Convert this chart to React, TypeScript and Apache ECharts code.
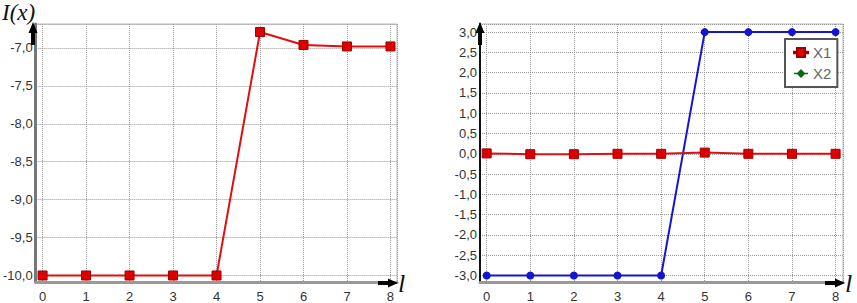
import React, { useEffect, useRef } from "react";
import * as echarts from "echarts";

const steps = [0, 1, 2, 3, 4, 5, 6, 7, 8];
const iValues = [-10.0, -10.0, -10.0, -10.0, -10.0, -6.79, -6.96, -6.98, -6.98];
const x1Values = [0.01, -0.01, -0.01, 0.0, 0.0, 0.03, 0.0, 0.0, 0.0];
const x2Values = [-3, -3, -3, -3, -3, 3, 3, 3, 3];
const seriesNames = ["X1", "X2"];

const fmtX = (v: number) => (Math.abs(v - Math.round(v)) < 1e-6 ? String(Math.round(v)) : "");
const fmtY = (v: number) => {
  const k = v / 0.5;
  if (Math.abs(k - Math.round(k)) > 1e-6) return "";
  return (Math.round(k) * 0.5).toFixed(1).replace(".", ",");
};

const labelStyle = { fontFamily: "Liberation Sans", fontSize: 13, color: "#333" };
const split = { show: true, lineStyle: { type: "dotted" as const, color: "#999", width: 1 } };

function xAxisCfg(gridIndex: number, min: number, max: number) {
  return {
    type: "value",
    gridIndex,
    min,
    max,
    splitNumber: 8,
    minInterval: 1,
    maxInterval: 1,
    axisLine: { show: true, onZero: false, lineStyle: { color: "#999", width: 3 } },
    axisTick: { show: false },
    axisLabel: { ...labelStyle, margin: 8, formatter: fmtX },
    splitLine: split,
  };
}

function yAxisCfg(gridIndex: number, min: number, max: number, color: string, width: number) {
  return {
    type: "value",
    gridIndex,
    min,
    max,
    splitNumber: 7,
    minInterval: 0.5,
    maxInterval: 0.5,
    axisLine: { show: true, onZero: false, lineStyle: { color, width } },
    axisTick: { show: false },
    axisLabel: { ...labelStyle, margin: 3, formatter: fmtY },
    splitLine: split,
  };
}

function upArrow(x: number, top: number) {
  return [
    { type: "polygon", shape: { points: [[x, top - 2], [x - 4.5, top + 9], [x + 4.5, top + 9]] }, style: { fill: "#000" }, z: 100 },
    { type: "rect", shape: { x: x - 2, y: top + 8, width: 4, height: 13 }, style: { fill: "#000" }, z: 100 },
  ];
}
function rightArrow(tipX: number, y: number) {
  return [
    { type: "polygon", shape: { points: [[tipX, y], [tipX - 10, y - 4.5], [tipX - 10, y + 4.5]] }, style: { fill: "#000" }, z: 100 },
    { type: "rect", shape: { x: tipX - 20, y: y - 2, width: 11, height: 4 }, style: { fill: "#000" }, z: 100 },
  ];
}

const squareIcon = "path://M0,4.3H3V5.7H0Z M3,0.5H11V9.5H3Z M11,4.3H14V5.7H11Z";
const diamondIcon = "path://M0,4.3H3V5.7H0Z M2.5,5L7,0.5L11.5,5L7,9.5Z M11,4.3H14V5.7H11Z";

export default function App() {
  const ref = useRef<HTMLDivElement>(null);
  useEffect(() => {
    document.body.style.margin = "0";
    if (!ref.current) return;
    const chart = echarts.init(ref.current, null, { renderer: "svg" });
    chart.setOption({
      animation: false,
      backgroundColor: "#fff",
      grid: [
        { left: 33, right: 460, top: 24, bottom: 20, show: true, borderColor: "#bbb", borderWidth: 1 },
        { left: 480, right: 14, top: 24, bottom: 20, show: true, borderColor: "#bbb", borderWidth: 1 },
      ],
      xAxis: [xAxisCfg(0, -0.16, 8.15), xAxisCfg(1, -0.153, 8.17)],
      yAxis: [
        yAxisCfg(0, -10.086, -6.684, "#777", 3),
        yAxisCfg(1, -3.16, 3.2, "#111", 2),
      ],
      legend: {
        left: 785,
        top: 39,
        orient: "vertical",
        backgroundColor: "#fff",
        borderColor: "#555",
        borderWidth: 2,
        padding: [6, 6, 6, 8],
        itemGap: 6,
        itemWidth: 14,
        itemHeight: 10,
        textStyle: { fontFamily: "Liberation Sans", fontSize: 15, color: "#666" },
        data: [
          { name: seriesNames[0], icon: squareIcon, itemStyle: { color: "#dd0000" } },
          { name: seriesNames[1], icon: diamondIcon, itemStyle: { color: "#0a6a1a" } },
        ],
      },
      graphic: [
        ...upArrow(33, 24),
        ...rightArrow(398, 283),
        ...upArrow(480, 24),
        ...rightArrow(845, 283),
        { type: "text", left: 2, top: 1, style: { text: "I(x)", font: "italic 23px 'Liberation Serif'", fill: "#111" }, z: 100 },
        { type: "text", left: 398, top: 270, style: { text: "l", font: "italic 26px 'Liberation Serif'", fill: "#111" }, z: 100 },
        { type: "text", left: 845, top: 270, style: { text: "l", font: "italic 26px 'Liberation Serif'", fill: "#111" }, z: 100 },
      ],
      series: [
        {
          name: "I(x)",
          type: "line",
          xAxisIndex: 0,
          yAxisIndex: 0,
          clip: false,
          data: steps.map((s, i) => [s, iValues[i]]),
          symbol: "rect",
          symbolSize: 9,
          lineStyle: { color: "#e01010", width: 2 },
          itemStyle: { color: "#dd0000", borderColor: "#a00000", borderWidth: 1 },
          z: 10,
        },
        {
          name: seriesNames[1],
          type: "line",
          xAxisIndex: 1,
          yAxisIndex: 1,
          clip: false,
          data: steps.map((s, i) => [s, x2Values[i]]),
          symbol: "circle",
          symbolSize: 8,
          lineStyle: { color: "#1515d0", width: 2 },
          itemStyle: { color: "#1515d0" },
          z: 10,
        },
        {
          name: seriesNames[0],
          type: "line",
          xAxisIndex: 1,
          yAxisIndex: 1,
          clip: false,
          data: steps.map((s, i) => [s, x1Values[i]]),
          symbol: "rect",
          symbolSize: 9,
          lineStyle: { color: "#e01010", width: 2 },
          itemStyle: { color: "#dd0000", borderColor: "#a00000", borderWidth: 1 },
          z: 11,
        },
      ],
    });
    return () => chart.dispose();
  }, []);
  return <div ref={ref} style={{ width: 857, height: 303 }} />;
}
